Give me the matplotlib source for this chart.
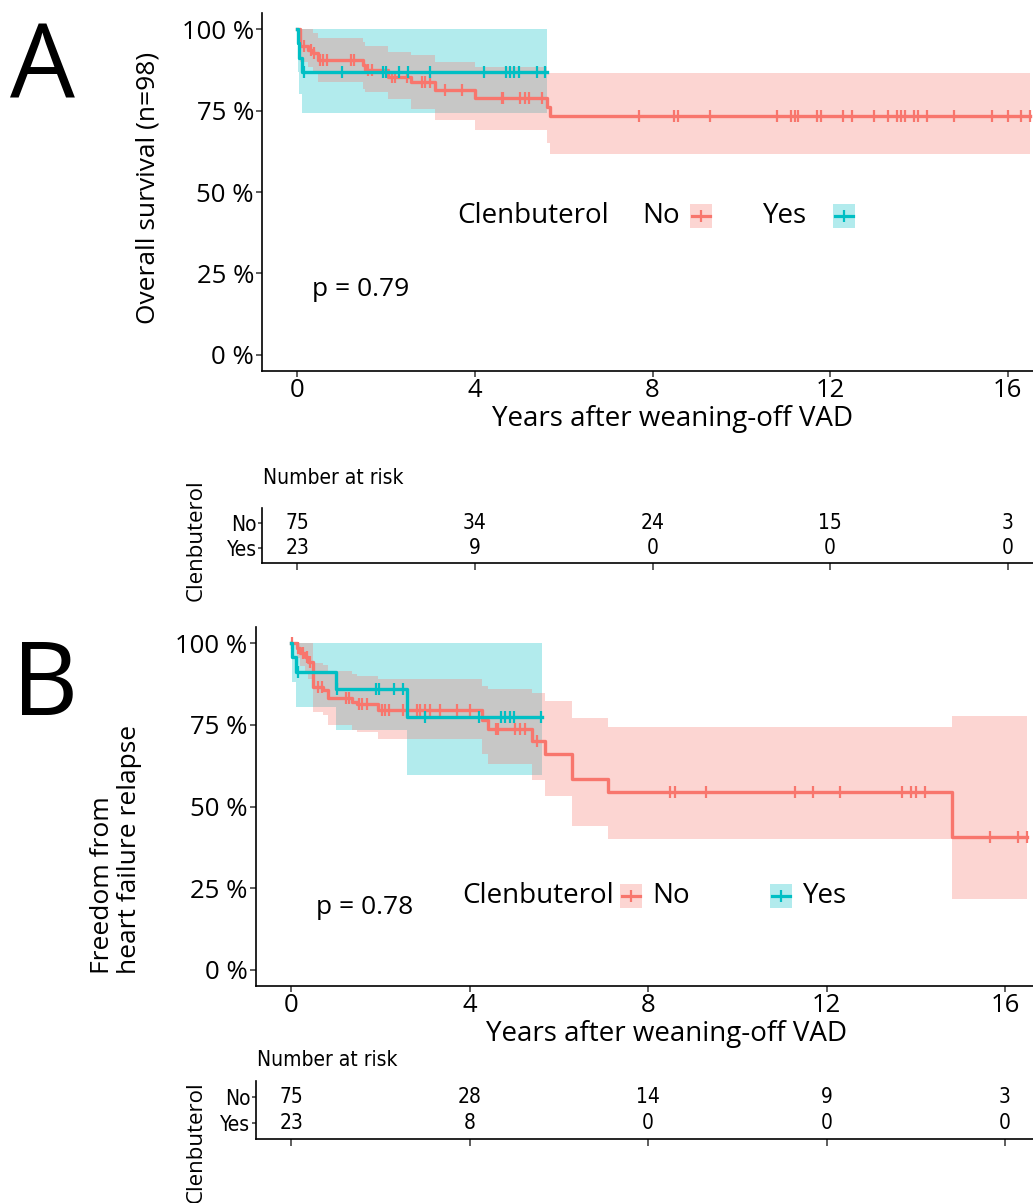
import matplotlib
matplotlib.use('Agg')
import matplotlib.pyplot as plt
from matplotlib.patches import Rectangle
from matplotlib.lines import Line2D
import numpy as np

plt.rcParams['font.family'] = ['Open Sans', 'DejaVu Sans']
NARROW = dict(family='DejaVu Sans', fontstretch='condensed')

RED = '#F8766D'
BLUE = '#00BFC4'

# ---------------- data ----------------
# Panel A: overall survival
a_no_t = [0, 0.05, 0.25, 0.36, 0.47, 1.49, 1.53, 2.05, 2.57, 3.1, 4.0, 5.62, 5.69, 16.5]
a_no_s = [1.0, 0.949, 0.937, 0.926, 0.906, 0.891, 0.875, 0.854, 0.839, 0.814, 0.788, 0.76, 0.732, 0.732]
a_no_lo = [1.0, 0.90, 0.885, 0.87, 0.839, 0.815, 0.808, 0.786, 0.755, 0.72, 0.69, 0.65, 0.617, 0.617]
a_no_hi = [1.0, 1.0, 1.0, 0.99, 0.972, 0.96, 0.95, 0.93, 0.92, 0.90, 0.885, 0.867, 0.867, 0.867]
a_no_cens = [0.14, 0.3, 0.38, 0.51, 0.59, 0.66, 1.2, 1.28, 1.6, 1.68, 2.13, 2.2, 2.46,
             2.8, 2.88, 2.99, 3.33, 3.7, 4.6, 4.64, 5.02, 5.13, 5.22, 5.5,
             7.7, 8.49, 8.58, 9.3, 10.8, 11.11, 11.2, 11.28, 11.7, 11.8, 12.28, 12.49,
             12.99, 13.3, 13.5, 13.6, 13.69, 13.9, 13.99, 14.19, 14.79, 15.64, 16.0, 16.29, 16.5]

a_yes_t = [0, 0.01, 0.04, 0.1, 5.62]
a_yes_s = [1.0, 0.957, 0.913, 0.870, 0.870]
a_yes_lo = [1.0, 0.87, 0.80, 0.742, 0.742]
a_yes_hi = [1.0, 1.0, 1.0, 1.0, 1.0]
a_yes_cens = [0.15, 1.0, 1.94, 1.99, 2.29, 2.5, 2.99, 4.2, 4.69, 4.79, 4.89, 4.99, 5.39, 5.59]

# Panel B: freedom from heart failure relapse
b_no_t = [0, 0.12, 0.2, 0.31, 0.38, 0.49, 0.7, 0.83, 1.35, 1.47, 1.95, 4.27, 4.42, 5.39, 5.69, 6.3, 7.1, 14.81, 16.5]
b_no_s = [1.0, 0.985, 0.969, 0.959, 0.944, 0.867, 0.857, 0.832, 0.821, 0.814, 0.796, 0.765, 0.737, 0.702, 0.661, 0.584, 0.544, 0.408, 0.408]
b_no_lo = [1.0, 0.955, 0.93, 0.915, 0.89, 0.79, 0.78, 0.75, 0.735, 0.729, 0.706, 0.66, 0.63, 0.582, 0.533, 0.441, 0.400, 0.216, 0.216]
b_no_hi = [1.0, 1.0, 1.0, 1.0, 1.0, 0.94, 0.935, 0.915, 0.905, 0.90, 0.89, 0.87, 0.86, 0.847, 0.824, 0.770, 0.743, 0.777, 0.777]
b_no_cens = [0.01, 0.15, 0.27, 0.345, 0.42, 0.6, 0.68, 1.22, 1.29, 1.52, 1.59, 1.69, 2.03, 2.1, 2.18, 2.51,
             2.81, 2.88, 3.0, 3.11, 3.33, 3.71, 4.0, 4.6, 4.64, 5.02, 5.13, 5.24, 5.5,
             8.5, 8.6, 9.3, 11.3, 11.7, 12.3, 13.7, 13.9, 14.0, 14.2, 15.67, 16.3, 16.5]

b_yes_t = [0, 0.02, 0.1, 1.0, 2.59, 5.62]
b_yes_s = [1.0, 0.957, 0.913, 0.859, 0.775, 0.775]
b_yes_lo = [1.0, 0.88, 0.804, 0.733, 0.597, 0.597]
b_yes_hi = [1.0, 1.0, 1.0, 1.0, 1.0, 1.0]
b_yes_cens = [0.16, 1.02, 1.9, 1.97, 2.3, 2.51, 3.0, 4.2, 4.7, 4.8, 4.9, 5.0, 5.59]

# number at risk tables
risk_times = [0, 4, 8, 12, 16]
a_risk_no = [75, 34, 24, 15, 3]
a_risk_yes = [23, 9, 0, 0, 0]
b_risk_no = [75, 28, 14, 9, 3]
b_risk_yes = [23, 8, 0, 0, 0]

y_ticks = [0, 0.25, 0.5, 0.75, 1.0]
y_labels = ['0 %', '25 %', '50 %', '75 %', '100 %']

# ---------------- figure ----------------
W, H = 1033, 1203
fig = plt.figure(figsize=(W / 100, H / 100), dpi=100)


def fx(px):
    return px / W


def fy(py):
    return 1 - py / H


def axes_px(left, top, right, bottom):
    return fig.add_axes([fx(left), fy(bottom), (right - left) / W, (bottom - top) / H])


def style(ax):
    for s in ['top', 'right']:
        ax.spines[s].set_visible(False)
    for s in ['left', 'bottom']:
        ax.spines[s].set_linewidth(1.2)
    ax.tick_params(direction='out', length=4, width=1.1, color='#333333')


def surv_at(times, surv, t):
    idx = np.searchsorted(times, t, side='right') - 1
    return np.asarray(surv)[idx]


def km_panel(ax, curves, xlim):
    # fills: Yes first, then No (gives the grey overlap)
    for t, s, lo, hi, cens, col in curves[::-1]:
        ax.fill_between(t, lo, hi, step='post', color=col, alpha=0.3, linewidth=0)
    for t, s, lo, hi, cens, col in curves:
        ax.step(t, s, where='post', color=col, lw=2.4)
        ax.plot(cens, surv_at(t, s, cens), ls='none', marker='|', ms=9, mew=1.6, color=col)
    ax.set_xlim(xlim)
    ax.set_ylim(-0.05, 1.05)
    ax.set_xticks(risk_times)
    ax.set_yticks(y_ticks)
    ax.set_yticklabels(y_labels)
    ax.tick_params(labelsize=18.5, pad=2)
    ax.tick_params(axis='x', pad=1)
    style(ax)


def risk_table(ax, no_vals, yes_vals, xlim):
    for t, n in zip(risk_times, no_vals):
        ax.text(t, 2, str(n), ha='center', va='center', fontsize=15, **NARROW)
    for t, n in zip(risk_times, yes_vals):
        ax.text(t, 1, str(n), ha='center', va='center', fontsize=15, **NARROW)
    ax.set_xlim(xlim)
    ax.set_ylim(0.4, 2.6)
    ax.set_xticks(risk_times)
    ax.set_xticklabels([])
    ax.set_yticks([1, 2])
    ax.set_yticklabels(['Yes', 'No'], fontsize=15, **NARROW)
    style(ax)
    ax.tick_params(axis='y', length=3, pad=1)
    ax.tick_params(axis='x', length=5)


def legend_key(x0, y0, col):
    fig.patches.append(Rectangle((fx(x0), fy(y0 + 24)), 22 / W, 24 / H, transform=fig.transFigure,
                                 facecolor=col, alpha=0.3, edgecolor='none'))
    fig.add_artist(Line2D([fx(x0 + 2), fx(x0 + 20)], [fy(y0 + 12)] * 2, color=col, lw=2.3))
    fig.add_artist(Line2D([fx(x0 + 11)], [fy(y0 + 12)], marker='|', ms=9, mew=1.6, color=col, ls='none'))


# ---------- Panel A ----------
xlim_a = ((262.3 - 297.3) / 44.4, (1033 - 297.3) / 44.4)
ax_a = axes_px(262.3, 13, 1033, 371)
km_panel(ax_a, [(a_no_t, a_no_s, a_no_lo, a_no_hi, a_no_cens, RED),
                (a_yes_t, a_yes_s, a_yes_lo, a_yes_hi, a_yes_cens, BLUE)], xlim_a)
fig.text(fx(673), fy(419), 'Years after weaning-off VAD', ha='center', va='center', fontsize=20)
fig.text(fx(148), fy(188), 'Overall survival (n=98)', rotation=90, ha='center', va='center', fontsize=19)
fig.text(fx(10), fy(98), 'A', fontsize=74, ha='left', va='baseline')
fig.text(fx(312), fy(290), 'p = 0.79', fontsize=19, ha='left', va='center')
fig.text(fx(457), fy(216), 'Clenbuterol', fontsize=20, ha='left', va='center')
fig.text(fx(642), fy(216), 'No', fontsize=20, ha='left', va='center')
legend_key(690, 204, RED)
fig.text(fx(763), fy(216), 'Yes', fontsize=20, ha='left', va='center')
legend_key(833, 204, BLUE)

ax_ra = axes_px(262.3, 508, 1033, 563)
risk_table(ax_ra, a_risk_no, a_risk_yes, xlim_a)
fig.text(fx(263), fy(478), 'Number at risk', fontsize=15, ha='left', va='center', **NARROW)
fig.text(fx(196), fy(540), 'Clenbuterol', rotation=90, fontsize=16, ha='center', va='center')

# ---------- Panel B ----------
xlim_b = ((255.7 - 291.3) / 44.6, (1033 - 291.3) / 44.6)
ax_b = axes_px(255.7, 627, 1033, 986)
km_panel(ax_b, [(b_no_t, b_no_s, b_no_lo, b_no_hi, b_no_cens, RED),
                (b_yes_t, b_yes_s, b_yes_lo, b_yes_hi, b_yes_cens, BLUE)], xlim_b)
fig.text(fx(667), fy(1034), 'Years after weaning-off VAD', ha='center', va='center', fontsize=20)
fig.text(fx(116), fy(974), 'Freedom from\nheart failure relapse', rotation=90, ha='center', va='bottom',
         multialignment='left', fontsize=19, linespacing=1.15)
fig.text(fx(12), fy(715), 'B', fontsize=74, ha='left', va='baseline')
fig.text(fx(316), fy(907), 'p = 0.78', fontsize=19, ha='left', va='center')
fig.text(fx(614), fy(896), 'Clenbuterol', fontsize=20, ha='right', va='center')
legend_key(620, 884, RED)
fig.text(fx(652), fy(896), 'No', fontsize=20, ha='left', va='center')
legend_key(770, 884, BLUE)
fig.text(fx(803), fy(896), 'Yes', fontsize=20, ha='left', va='center')

ax_rb = axes_px(255.7, 1081, 1033, 1139)
risk_table(ax_rb, b_risk_no, b_risk_yes, xlim_b)
fig.text(fx(257), fy(1060), 'Number at risk', fontsize=15, ha='left', va='center', **NARROW)
fig.text(fx(196), fy(1142), 'Clenbuterol', rotation=90, fontsize=16, ha='center', va='center')

fig.savefig('out.png', dpi=100)
